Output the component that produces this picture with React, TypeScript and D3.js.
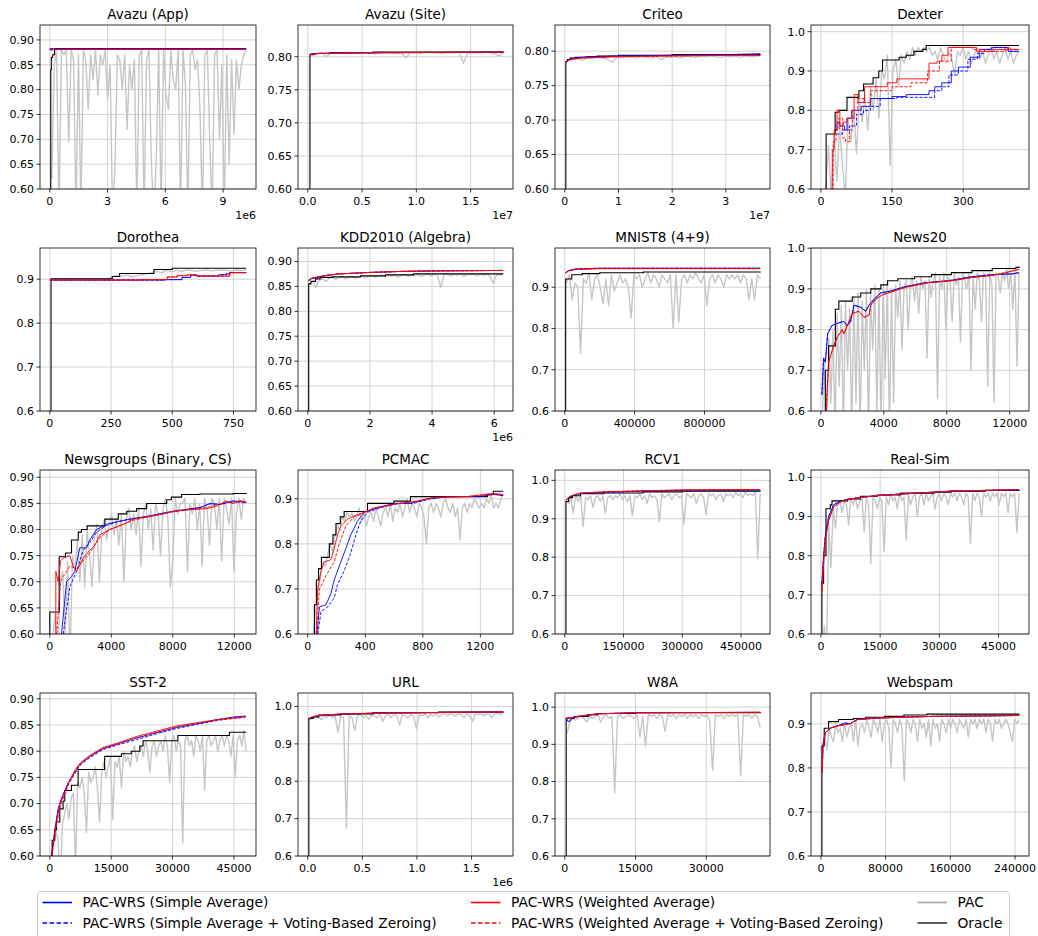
import React from 'react';
import * as d3 from 'd3';

type Pt = [number, number];

// ---------------- shared tick lists ----------------
const yTicksFine = [0.6, 0.65, 0.7, 0.75, 0.8, 0.85, 0.9];
const yTicksCoarse = [0.6, 0.7, 0.8, 0.9, 1.0];

// ---------------- Avazu (App) ----------------
const avazuAppSimple: Pt[] = [[0, 0.882], [1e6, 0.882], [10.2e6, 0.882]];
const avazuAppWeighted: Pt[] = [[0, 0.880], [1e6, 0.881], [10.2e6, 0.881]];
const avazuAppOracle: Pt[] = [[0.05e6, 0.6], [0.05e6, 0.84], [0.08e6, 0.865], [0.15e6, 0.87], [0.25e6, 0.882], [10.2e6, 0.882]];
const avazuAppPac = [0.62, 0.85, 0.875, 0.55, 0.88, 0.87, 0.88, 0.695, 0.88, 0.86, 0.55, 0.87, 0.55, 0.88, 0.86, 0.76, 0.87, 0.82, 0.88, 0.79, 0.87, 0.85, 0.88, 0.78, 0.85, 0.55, 0.64, 0.87, 0.86, 0.80, 0.87, 0.72, 0.85, 0.80, 0.86, 0.55, 0.87, 0.88, 0.55, 0.86, 0.88, 0.65, 0.55, 0.66, 0.88, 0.55, 0.88, 0.79, 0.76, 0.88, 0.82, 0.80, 0.88, 0.55, 0.88, 0.81, 0.55, 0.87, 0.88, 0.84, 0.86, 0.76, 0.55, 0.87, 0.88, 0.70, 0.55, 0.87, 0.88, 0.70, 0.85, 0.55, 0.87, 0.65, 0.86, 0.71, 0.86, 0.80, 0.85, 0.87, 0.88];
const avazuAppPacRange: Pt = [0.1e6, 10.2e6];
const avazuAppXTicks = [0, 3e6, 6e6, 9e6];
const avazuAppXLabels = ['0', '3', '6', '9'];

// ---------------- Avazu (Site) ----------------
const avazuSiteSimple: Pt[] = [[0.02e7, 0.804], [0.1e7, 0.805], [0.5e7, 0.806], [1.8e7, 0.807]];
const avazuSiteWeighted: Pt[] = [[0.02e7, 0.803], [0.1e7, 0.805], [0.5e7, 0.806], [1.8e7, 0.807]];
const avazuSiteOracle: Pt[] = [[0.02e7, 0.6], [0.02e7, 0.803], [0.05e7, 0.805], [0.2e7, 0.806], [0.6e7, 0.807], [1.8e7, 0.808]];
const avazuSitePac = [0.802, 0.805, 0.806, 0.800, 0.806, 0.806, 0.805, 0.806, 0.807, 0.806, 0.805, 0.806, 0.806, 0.806, 0.804, 0.806, 0.807, 0.806, 0.806, 0.805, 0.806, 0.798, 0.806, 0.806, 0.805, 0.806, 0.807, 0.806, 0.806, 0.805, 0.806, 0.806, 0.806, 0.807, 0.790, 0.806, 0.806, 0.806, 0.806, 0.807, 0.806, 0.805, 0.801, 0.806];
const avazuSitePacRange: Pt = [0.05e7, 1.8e7];
const avazuSiteXTicks = [0, 0.5e7, 1e7, 1.5e7];
const avazuSiteXLabels = ['0.0', '0.5', '1.0', '1.5'];

// ---------------- Criteo ----------------
const criteoSimple: Pt[] = [[0.02e7, 0.784], [0.05e7, 0.787], [0.1e7, 0.789], [0.3e7, 0.791], [0.6e7, 0.792], [1e7, 0.793], [2e7, 0.794], [3e7, 0.795], [3.64e7, 0.796]];
const criteoWeighted: Pt[] = [[0.02e7, 0.783], [0.05e7, 0.786], [0.1e7, 0.788], [0.3e7, 0.790], [0.6e7, 0.791], [1e7, 0.792], [2e7, 0.793], [3e7, 0.794], [3.64e7, 0.794]];
const criteoOracle: Pt[] = [[0.02e7, 0.6], [0.02e7, 0.785], [0.05e7, 0.788], [0.1e7, 0.790], [0.2e7, 0.791], [0.4e7, 0.792], [0.6e7, 0.793], [1e7, 0.794], [2e7, 0.795], [3.64e7, 0.796]];
const criteoPac = [0.786, 0.788, 0.789, 0.787, 0.790, 0.789, 0.791, 0.790, 0.789, 0.784, 0.791, 0.790, 0.792, 0.791, 0.790, 0.792, 0.791, 0.790, 0.792, 0.788, 0.792, 0.791, 0.792, 0.790, 0.793, 0.792, 0.791, 0.793, 0.792, 0.793, 0.792, 0.791, 0.793, 0.792, 0.793, 0.791, 0.793, 0.792, 0.793, 0.793];
const criteoPacRange: Pt = [0.05e7, 3.64e7];
const criteoXTicks = [0, 1e7, 2e7, 3e7];
const criteoXLabels = ['0', '1', '2', '3'];

// ---------------- Dexter ----------------
const dexterSimple: Pt[] = [[28, 0.75], [34, 0.77], [40, 0.76], [50, 0.75], [55, 0.78], [65, 0.80], [85, 0.81], [105, 0.83], [150, 0.835], [180, 0.84], [228, 0.85], [240, 0.86], [255, 0.87], [275, 0.90], [290, 0.91], [315, 0.935], [335, 0.955], [360, 0.96], [395, 0.95], [418, 0.95]];
const dexterSimpleZ: Pt[] = [[32, 0.74], [45, 0.75], [60, 0.76], [75, 0.79], [90, 0.80], [105, 0.81], [125, 0.83], [160, 0.833], [228, 0.833], [240, 0.85], [255, 0.86], [270, 0.89], [290, 0.90], [310, 0.93], [330, 0.945], [345, 0.955], [365, 0.96], [395, 0.95], [418, 0.95]];
const dexterWeighted: Pt[] = [[20, 0.6], [24, 0.70], [28, 0.75], [34, 0.80], [40, 0.76], [47, 0.77], [55, 0.78], [70, 0.84], [78, 0.82], [92, 0.86], [140, 0.87], [160, 0.88], [228, 0.92], [245, 0.925], [255, 0.94], [268, 0.96], [328, 0.95], [367, 0.955], [418, 0.955]];
const dexterWeightedZ: Pt[] = [[22, 0.6], [26, 0.72], [32, 0.75], [38, 0.78], [46, 0.73], [52, 0.72], [60, 0.75], [66, 0.80], [78, 0.83], [90, 0.82], [105, 0.85], [135, 0.85], [150, 0.86], [190, 0.87], [225, 0.90], [250, 0.925], [275, 0.96], [320, 0.955], [345, 0.95], [390, 0.96], [400, 0.955], [418, 0.955]];
const dexterOracle: Pt[] = [[11, 0.6], [11, 0.74], [30, 0.795], [38, 0.80], [55, 0.833], [80, 0.85], [90, 0.867], [110, 0.883], [122, 0.9], [130, 0.928], [165, 0.935], [180, 0.94], [196, 0.95], [215, 0.955], [222, 0.965], [418, 0.965]];
const dexterPac = [0.60, 0.71, 0.58, 0.74, 0.62, 0.76, 0.66, 0.58, 0.78, 0.72, 0.80, 0.69, 0.83, 0.77, 0.84, 0.75, 0.86, 0.80, 0.88, 0.78, 0.90, 0.88, 0.94, 0.66, 0.90, 0.93, 0.86, 0.94, 0.92, 0.95, 0.93, 0.96, 0.94, 0.96, 0.95, 0.96, 0.95, 0.96, 0.94, 0.95, 0.93, 0.96, 0.94, 0.92, 0.95, 0.93, 0.89, 0.95, 0.94, 0.96, 0.93, 0.95, 0.92, 0.94, 0.96, 0.93, 0.95, 0.92, 0.94, 0.96, 0.93, 0.95, 0.92, 0.94, 0.96, 0.93, 0.95, 0.92, 0.94, 0.95];
const dexterPacRange: Pt = [10, 418];
const dexterXTicks = [0, 150, 300];

// ---------------- Dorothea ----------------
const dorotheaSimple: Pt[] = [[0, 0.898], [470, 0.899], [540, 0.904], [575, 0.909], [600, 0.907], [690, 0.91], [720, 0.912], [735, 0.915], [802, 0.915]];
const dorotheaWeighted: Pt[] = [[0, 0.898], [370, 0.899], [480, 0.905], [520, 0.908], [560, 0.910], [600, 0.907], [735, 0.915], [802, 0.916]];
const dorotheaOracle: Pt[] = [[5, 0.6], [5, 0.901], [255, 0.906], [285, 0.913], [425, 0.922], [500, 0.925], [802, 0.925]];
const dorotheaPac = [0.90, 0.90, 0.90, 0.90, 0.90, 0.90, 0.90, 0.90, 0.90, 0.90, 0.90, 0.90, 0.905, 0.908, 0.906, 0.91, 0.905, 0.908, 0.91, 0.912, 0.915, 0.918, 0.915, 0.92, 0.917, 0.92, 0.918, 0.921, 0.92, 0.918, 0.92, 0.921, 0.919, 0.92, 0.921, 0.92, 0.919, 0.921, 0.92, 0.921];
const dorotheaPacRange: Pt = [10, 802];
const dorotheaXTicks = [0, 250, 500, 750];

// ---------------- KDD2010 (Algebra) ----------------
const kddSimple: Pt[] = [[0.02e6, 0.861], [0.1e6, 0.865], [0.3e6, 0.868], [0.6e6, 0.872], [1e6, 0.875], [2e6, 0.878], [3e6, 0.880], [4e6, 0.881], [6.29e6, 0.882]];
const kddWeighted: Pt[] = [[0.02e6, 0.862], [0.1e6, 0.866], [0.3e6, 0.869], [0.6e6, 0.872], [1e6, 0.875], [2e6, 0.878], [3e6, 0.880], [4e6, 0.881], [6.29e6, 0.882]];
const kddOracle: Pt[] = [[0.03e6, 0.6], [0.03e6, 0.855], [0.1e6, 0.86], [0.25e6, 0.865], [0.4e6, 0.868], [0.8e6, 0.869], [1.7e6, 0.871], [2.5e6, 0.873], [3.4e6, 0.875], [6.29e6, 0.875]];
const kddPac = [0.855, 0.86, 0.848, 0.862, 0.865, 0.86, 0.866, 0.868, 0.864, 0.867, 0.869, 0.865, 0.868, 0.87, 0.866, 0.869, 0.871, 0.867, 0.87, 0.872, 0.868, 0.871, 0.873, 0.869, 0.872, 0.87, 0.873, 0.868, 0.872, 0.874, 0.87, 0.873, 0.871, 0.874, 0.87, 0.873, 0.875, 0.871, 0.874, 0.872, 0.848, 0.873, 0.875, 0.871, 0.874, 0.872, 0.875, 0.87, 0.874, 0.873, 0.875, 0.871, 0.874, 0.872, 0.875, 0.87, 0.856, 0.874, 0.872, 0.875];
const kddPacRange: Pt = [0.05e6, 6.29e6];
const kddXTicks = [0, 2e6, 4e6, 6e6];
const kddXLabels = ['0', '2', '4', '6'];

// ---------------- MNIST8 (4+9) ----------------
const mnistSimple: Pt[] = [[5000, 0.935], [20000, 0.940], [60000, 0.944], [200000, 0.946], [1119000, 0.946]];
const mnistWeighted: Pt[] = [[5000, 0.934], [20000, 0.939], [60000, 0.943], [200000, 0.945], [1119000, 0.945]];
const mnistOracle: Pt[] = [[5000, 0.6], [5000, 0.92], [40000, 0.93], [100000, 0.933], [200000, 0.935], [450000, 0.937], [1119000, 0.938]];
const mnistPac = [0.91, 0.93, 0.87, 0.91, 0.90, 0.74, 0.92, 0.91, 0.935, 0.87, 0.92, 0.93, 0.90, 0.86, 0.92, 0.855, 0.93, 0.89, 0.91, 0.93, 0.91, 0.92, 0.90, 0.825, 0.93, 0.92, 0.93, 0.90, 0.92, 0.935, 0.91, 0.93, 0.92, 0.90, 0.93, 0.92, 0.91, 0.93, 0.80, 0.93, 0.815, 0.92, 0.93, 0.91, 0.93, 0.92, 0.935, 0.92, 0.91, 0.93, 0.855, 0.92, 0.93, 0.91, 0.93, 0.92, 0.90, 0.93, 0.92, 0.93, 0.92, 0.93, 0.91, 0.93, 0.92, 0.87, 0.92, 0.87, 0.93, 0.92];
const mnistPacRange: Pt = [10000, 1119000];
const mnistXTicks = [0, 400000, 800000];

// ---------------- News20 ----------------
const news20Simple: Pt[] = [[64, 0.64], [170, 0.73], [280, 0.72], [430, 0.79], [700, 0.81], [1000, 0.815], [1460, 0.82], [1670, 0.81], [1890, 0.82], [2100, 0.86], [2530, 0.855], [2850, 0.845], [3060, 0.86], [3390, 0.875], [3800, 0.89], [4460, 0.895], [5300, 0.905], [6600, 0.915], [8100, 0.92], [9600, 0.93], [10900, 0.935], [12170, 0.937], [12600, 0.94]];
const news20Weighted: Pt[] = [[340, 0.6], [490, 0.72], [810, 0.76], [1030, 0.78], [1350, 0.80], [1460, 0.79], [1670, 0.81], [2000, 0.84], [2420, 0.845], [2740, 0.83], [3060, 0.835], [3170, 0.86], [3490, 0.875], [3900, 0.885], [4650, 0.895], [5500, 0.905], [6800, 0.915], [8300, 0.92], [9600, 0.928], [10900, 0.933], [11740, 0.94], [12600, 0.948]];
const news20Oracle: Pt[] = [[280, 0.6], [280, 0.70], [490, 0.76], [920, 0.85], [1140, 0.87], [1990, 0.88], [2530, 0.89], [3170, 0.90], [3810, 0.91], [4240, 0.92], [4890, 0.925], [5960, 0.93], [7030, 0.935], [8300, 0.94], [9600, 0.945], [10890, 0.95], [12390, 0.953], [12600, 0.955]];
const news20Pac = [0.60, 0.72, 0.55, 0.78, 0.62, 0.80, 0.55, 0.84, 0.66, 0.86, 0.55, 0.87, 0.70, 0.85, 0.55, 0.88, 0.62, 0.89, 0.55, 0.87, 0.70, 0.90, 0.55, 0.89, 0.75, 0.91, 0.60, 0.90, 0.55, 0.91, 0.68, 0.92, 0.55, 0.90, 0.62, 0.91, 0.83, 0.92, 0.75, 0.90, 0.92, 0.80, 0.91, 0.93, 0.87, 0.92, 0.84, 0.93, 0.90, 0.92, 0.73, 0.93, 0.88, 0.92, 0.94, 0.63, 0.93, 0.90, 0.94, 0.80, 0.93, 0.92, 0.82, 0.94, 0.91, 0.93, 0.77, 0.94, 0.92, 0.90, 0.94, 0.70, 0.93, 0.85, 0.94, 0.92, 0.82, 0.94, 0.93, 0.66, 0.94, 0.91, 0.62, 0.94, 0.93, 0.89, 0.94, 0.92, 0.95, 0.90, 0.94, 0.85, 0.95, 0.71, 0.94];
const news20PacRange: Pt = [100, 12600];
const news20XTicks = [0, 4000, 8000, 12000];

// ---------------- Newsgroups (Binary, CS) ----------------
const newsgroupsSimple: Pt[] = [[760, 0.6], [1090, 0.70], [1410, 0.71], [1630, 0.72], [1950, 0.765], [2390, 0.765], [2600, 0.78], [3040, 0.80], [3690, 0.81], [4340, 0.815], [5210, 0.82], [6510, 0.826], [7600, 0.833], [8680, 0.838], [9770, 0.842], [10420, 0.85], [11070, 0.848], [11940, 0.855], [12770, 0.852]];
const newsgroupsSimpleZ: Pt[] = [[870, 0.6], [1300, 0.69], [1740, 0.72], [2170, 0.76], [2600, 0.775], [3040, 0.795], [3690, 0.808], [4340, 0.814], [5210, 0.82], [6510, 0.826], [7600, 0.832], [8680, 0.837], [9770, 0.842], [10420, 0.849], [11070, 0.848], [11940, 0.854], [12770, 0.851]];
const newsgroupsWeighted: Pt[] = [[390, 0.6], [390, 0.72], [540, 0.70], [700, 0.74], [870, 0.745], [1300, 0.75], [1520, 0.73], [1740, 0.72], [2170, 0.745], [2600, 0.76], [2930, 0.77], [3260, 0.79], [3900, 0.80], [4780, 0.81], [5430, 0.82], [6510, 0.825], [7380, 0.83], [8030, 0.835], [9110, 0.838], [10200, 0.84], [10850, 0.845], [11500, 0.855], [11930, 0.85], [12370, 0.855], [12770, 0.852]];
const newsgroupsWeightedZ: Pt[] = [[460, 0.6], [540, 0.64], [700, 0.70], [870, 0.71], [1300, 0.73], [1740, 0.725], [2170, 0.74], [2600, 0.755], [3260, 0.785], [3900, 0.80], [4780, 0.81], [5430, 0.818], [6510, 0.825], [7380, 0.83], [8030, 0.835], [9110, 0.838], [10200, 0.842], [10850, 0.847], [11500, 0.853], [11930, 0.85], [12370, 0.855], [12770, 0.852]];
const newsgroupsOracle: Pt[] = [[0, 0.6], [0, 0.642], [610, 0.748], [1020, 0.755], [1410, 0.78], [1850, 0.795], [2060, 0.80], [2430, 0.807], [3580, 0.82], [4450, 0.83], [5000, 0.835], [5640, 0.84], [6300, 0.85], [7600, 0.857], [7900, 0.862], [8570, 0.867], [9760, 0.868], [11930, 0.869], [12770, 0.87]];
const newsgroupsPac = [0.60, 0.64, 0.55, 0.70, 0.72, 0.60, 0.74, 0.55, 0.75, 0.72, 0.78, 0.70, 0.79, 0.69, 0.80, 0.75, 0.69, 0.79, 0.81, 0.70, 0.80, 0.82, 0.78, 0.81, 0.83, 0.79, 0.82, 0.77, 0.83, 0.70, 0.82, 0.84, 0.80, 0.83, 0.79, 0.84, 0.73, 0.83, 0.85, 0.80, 0.84, 0.76, 0.85, 0.83, 0.75, 0.84, 0.86, 0.82, 0.69, 0.74, 0.86, 0.83, 0.85, 0.85, 0.86, 0.72, 0.85, 0.83, 0.86, 0.80, 0.85, 0.73, 0.86, 0.84, 0.77, 0.86, 0.85, 0.80, 0.86, 0.74, 0.86, 0.84, 0.81, 0.86, 0.72, 0.83, 0.86, 0.82, 0.86, 0.85];
const newsgroupsPacRange: Pt = [200, 12770];
const newsgroupsXTicks = [0, 4000, 8000, 12000];

// ---------------- PCMAC ----------------
const pcmacSimple: Pt[] = [[64, 0.6], [81, 0.66], [127, 0.665], [161, 0.69], [184, 0.72], [230, 0.76], [265, 0.79], [299, 0.82], [345, 0.85], [391, 0.87], [484, 0.88], [599, 0.89], [714, 0.89], [829, 0.90], [990, 0.905], [1198, 0.905], [1290, 0.91], [1359, 0.908]];
const pcmacSimpleZ: Pt[] = [[70, 0.6], [92, 0.65], [138, 0.66], [184, 0.68], [207, 0.71], [253, 0.74], [299, 0.78], [334, 0.82], [368, 0.85], [415, 0.87], [507, 0.88], [622, 0.89], [737, 0.89], [852, 0.90], [990, 0.905], [1198, 0.905], [1290, 0.91], [1359, 0.907]];
const pcmacWeighted: Pt[] = [[58, 0.6], [69, 0.70], [92, 0.74], [115, 0.76], [161, 0.765], [184, 0.79], [207, 0.82], [230, 0.84], [276, 0.855], [322, 0.862], [391, 0.87], [461, 0.88], [553, 0.885], [645, 0.89], [760, 0.895], [875, 0.903], [1105, 0.905], [1290, 0.912], [1359, 0.91]];
const pcmacWeightedZ: Pt[] = [[60, 0.6], [81, 0.70], [127, 0.73], [184, 0.76], [219, 0.80], [265, 0.84], [322, 0.86], [391, 0.868], [461, 0.88], [553, 0.885], [645, 0.89], [760, 0.895], [875, 0.903], [1105, 0.905], [1290, 0.91], [1359, 0.908]];
const pcmacOracle: Pt[] = [[46, 0.6], [46, 0.665], [60, 0.72], [75, 0.745], [95, 0.77], [150, 0.80], [175, 0.82], [196, 0.845], [226, 0.86], [253, 0.872], [415, 0.89], [599, 0.895], [714, 0.905], [1250, 0.91], [1290, 0.917], [1359, 0.917]];
const pcmacPac = [0.60, 0.66, 0.70, 0.73, 0.76, 0.75, 0.78, 0.80, 0.78, 0.82, 0.84, 0.83, 0.86, 0.85, 0.87, 0.86, 0.87, 0.85, 0.86, 0.88, 0.85, 0.87, 0.84, 0.86, 0.87, 0.85, 0.88, 0.86, 0.84, 0.87, 0.88, 0.86, 0.89, 0.85, 0.88, 0.87, 0.89, 0.86, 0.88, 0.90, 0.87, 0.89, 0.88, 0.86, 0.89, 0.88, 0.86, 0.80, 0.88, 0.89, 0.87, 0.89, 0.88, 0.86, 0.89, 0.90, 0.88, 0.87, 0.89, 0.86, 0.88, 0.81, 0.88, 0.89, 0.87, 0.89, 0.88, 0.90, 0.89, 0.88, 0.89, 0.88, 0.90, 0.89, 0.91, 0.88, 0.89, 0.88, 0.90, 0.91];
const pcmacPacRange: Pt = [40, 1359];
const pcmacXTicks = [0, 400, 800, 1200];

// ---------------- RCV1 ----------------
const rcv1Simple: Pt[] = [[3000, 0.948], [10000, 0.955], [20000, 0.96], [40000, 0.966], [100000, 0.969], [200000, 0.972], [300000, 0.974], [499000, 0.975]];
const rcv1Weighted: Pt[] = [[3000, 0.949], [10000, 0.956], [20000, 0.961], [40000, 0.967], [100000, 0.970], [200000, 0.973], [300000, 0.975], [499000, 0.976]];
const rcv1Oracle: Pt[] = [[3000, 0.6], [3000, 0.945], [10000, 0.955], [20000, 0.96], [40000, 0.965], [100000, 0.967], [200000, 0.97], [300000, 0.972], [499000, 0.973]];
const rcv1Pac = [0.95, 0.94, 0.955, 0.915, 0.96, 0.945, 0.96, 0.88, 0.955, 0.95, 0.96, 0.93, 0.955, 0.96, 0.945, 0.96, 0.915, 0.955, 0.96, 0.95, 0.96, 0.955, 0.965, 0.95, 0.96, 0.945, 0.96, 0.908, 0.96, 0.955, 0.965, 0.95, 0.96, 0.94, 0.965, 0.955, 0.96, 0.95, 0.893, 0.965, 0.955, 0.96, 0.965, 0.95, 0.96, 0.965, 0.955, 0.96, 0.885, 0.965, 0.96, 0.955, 0.965, 0.94, 0.96, 0.965, 0.955, 0.91, 0.965, 0.96, 0.965, 0.95, 0.96, 0.965, 0.945, 0.965, 0.96, 0.965, 0.955, 0.97, 0.96, 0.965, 0.955, 0.97, 0.96, 0.965, 0.96, 0.97, 0.795, 0.965];
const rcv1PacRange: Pt = [3000, 499000];
const rcv1XTicks = [0, 150000, 300000, 450000];

// ---------------- Real-Sim ----------------
const realSimSimple: Pt[] = [[255, 0.73], [680, 0.80], [1110, 0.85], [1960, 0.90], [3230, 0.93], [4950, 0.94], [7490, 0.945], [10900, 0.95], [16000, 0.955], [24500, 0.96], [33000, 0.965], [50200, 0.968]];
const realSimWeighted: Pt[] = [[255, 0.71], [680, 0.78], [1110, 0.84], [1960, 0.89], [3230, 0.925], [5360, 0.94], [7490, 0.945], [10900, 0.95], [16000, 0.955], [24500, 0.96], [33000, 0.965], [50200, 0.969]];
const realSimOracle: Pt[] = [[255, 0.6], [255, 0.73], [680, 0.80], [1280, 0.92], [2380, 0.93], [2800, 0.94], [6800, 0.945], [10000, 0.952], [14300, 0.955], [20200, 0.96], [28700, 0.962], [33000, 0.965], [41700, 0.967], [50200, 0.968]];
const realSimPac = [0.55, 0.62, 0.55, 0.88, 0.77, 0.92, 0.87, 0.93, 0.94, 0.91, 0.94, 0.93, 0.88, 0.95, 0.93, 0.95, 0.92, 0.94, 0.95, 0.86, 0.95, 0.93, 0.78, 0.95, 0.94, 0.92, 0.95, 0.94, 0.81, 0.95, 0.93, 0.96, 0.94, 0.95, 0.92, 0.96, 0.94, 0.95, 0.84, 0.96, 0.93, 0.95, 0.96, 0.90, 0.95, 0.96, 0.93, 0.96, 0.94, 0.95, 0.96, 0.92, 0.95, 0.96, 0.94, 0.96, 0.95, 0.93, 0.96, 0.95, 0.96, 0.94, 0.96, 0.95, 0.93, 0.96, 0.95, 0.83, 0.96, 0.94, 0.96, 0.95, 0.90, 0.96, 0.95, 0.96, 0.94, 0.96, 0.95, 0.96, 0.93, 0.96, 0.95, 0.96, 0.91, 0.96, 0.95, 0.96, 0.86, 0.96];
const realSimPacRange: Pt = [300, 50200];
const realSimXTicks = [0, 15000, 30000, 45000];

// ---------------- SST-2 ----------------
const sst2Simple: Pt[] = [[400, 0.6], [1220, 0.65], [2030, 0.69], [2850, 0.71], [4480, 0.74], [6100, 0.76], [7320, 0.775], [9760, 0.79], [13000, 0.805], [17100, 0.815], [21200, 0.825], [26000, 0.835], [30900, 0.845], [35800, 0.852], [40700, 0.86], [44750, 0.865], [47900, 0.867]];
const sst2SimpleZ: Pt[] = [[420, 0.6], [1260, 0.65], [2100, 0.688], [2900, 0.708], [4550, 0.738], [6200, 0.758], [7400, 0.773], [9800, 0.788], [13000, 0.803], [17100, 0.813], [21200, 0.822], [26000, 0.833], [30900, 0.843], [35800, 0.851], [40700, 0.858], [44750, 0.864], [47900, 0.866]];
const sst2Weighted: Pt[] = [[450, 0.6], [1300, 0.65], [2200, 0.69], [3000, 0.71], [4600, 0.74], [6200, 0.765], [7500, 0.778], [9760, 0.792], [13000, 0.807], [17100, 0.817], [21200, 0.828], [26000, 0.838], [30900, 0.848], [35800, 0.854], [40700, 0.86], [44750, 0.863], [47900, 0.866]];
const sst2WeightedZ: Pt[] = [[480, 0.6], [1350, 0.645], [2250, 0.686], [3050, 0.706], [4650, 0.737], [6250, 0.762], [7550, 0.776], [9800, 0.79], [13000, 0.805], [17100, 0.815], [21200, 0.826], [26000, 0.836], [30900, 0.846], [35800, 0.853], [40700, 0.859], [44750, 0.862], [47900, 0.865]];
const sst2Oracle: Pt[] = [[244, 0.6], [570, 0.63], [1220, 0.65], [1630, 0.665], [2440, 0.69], [3250, 0.705], [3660, 0.725], [5290, 0.735], [6920, 0.765], [13400, 0.79], [17500, 0.795], [19900, 0.80], [22000, 0.81], [22800, 0.82], [31300, 0.83], [43900, 0.836], [47900, 0.837]];
const sst2Pac = [0.60, 0.62, 0.65, 0.63, 0.55, 0.66, 0.68, 0.70, 0.67, 0.71, 0.72, 0.58, 0.74, 0.73, 0.75, 0.72, 0.645, 0.76, 0.74, 0.75, 0.77, 0.73, 0.665, 0.76, 0.78, 0.75, 0.77, 0.79, 0.67, 0.78, 0.77, 0.79, 0.73, 0.80, 0.78, 0.79, 0.77, 0.80, 0.81, 0.78, 0.80, 0.81, 0.79, 0.82, 0.80, 0.76, 0.81, 0.82, 0.79, 0.81, 0.82, 0.80, 0.83, 0.81, 0.74, 0.82, 0.83, 0.80, 0.82, 0.81, 0.625, 0.82, 0.83, 0.81, 0.82, 0.79, 0.83, 0.82, 0.80, 0.83, 0.725, 0.82, 0.83, 0.81, 0.82, 0.83, 0.80, 0.82, 0.83, 0.81, 0.83, 0.82, 0.79, 0.83, 0.75, 0.82, 0.83, 0.81, 0.84, 0.80];
const sst2PacRange: Pt = [400, 48000];
const sst2XTicks = [0, 15000, 30000, 45000];

// ---------------- URL ----------------
const urlSimple: Pt[] = [[0.01e6, 0.966], [0.03e6, 0.970], [0.1e6, 0.975], [0.3e6, 0.979], [0.6e6, 0.982], [1.2e6, 0.984], [1.79e6, 0.985]];
const urlWeighted: Pt[] = [[0.01e6, 0.967], [0.03e6, 0.971], [0.1e6, 0.976], [0.3e6, 0.980], [0.6e6, 0.982], [1.2e6, 0.984], [1.79e6, 0.985]];
const urlOracle: Pt[] = [[0.01e6, 0.6], [0.01e6, 0.968], [0.05e6, 0.972], [0.1e6, 0.977], [0.3e6, 0.98], [0.6e6, 0.983], [1.2e6, 0.985], [1.79e6, 0.986]];
const urlPac = [0.965, 0.97, 0.975, 0.97, 0.965, 0.975, 0.97, 0.978, 0.97, 0.975, 0.93, 0.975, 0.97, 0.675, 0.975, 0.97, 0.935, 0.975, 0.978, 0.97, 0.975, 0.965, 0.978, 0.975, 0.97, 0.978, 0.96, 0.975, 0.978, 0.97, 0.978, 0.975, 0.95, 0.978, 0.975, 0.97, 0.978, 0.975, 0.94, 0.978, 0.975, 0.98, 0.97, 0.978, 0.975, 0.98, 0.972, 0.978, 0.98, 0.975, 0.98, 0.978, 0.975, 0.98, 0.978, 0.97, 0.98, 0.975, 0.96, 0.98, 0.978, 0.98, 0.975, 0.98, 0.978, 0.97, 0.98, 0.982, 0.978, 0.98];
const urlPacRange: Pt = [0.02e6, 1.79e6];
const urlXTicks = [0, 0.5e6, 1e6, 1.5e6];
const urlXLabels = ['0.0', '0.5', '1.0', '1.5'];

// ---------------- W8A ----------------
const w8aSimple: Pt[] = [[300, 0.97], [800, 0.96], [1500, 0.97], [3000, 0.975], [7000, 0.982], [15000, 0.985], [41450, 0.986]];
const w8aWeighted: Pt[] = [[300, 0.97], [1500, 0.972], [3000, 0.976], [7000, 0.982], [15000, 0.985], [41450, 0.986]];
const w8aOracle: Pt[] = [[300, 0.6], [300, 0.97], [2000, 0.975], [5000, 0.98], [7000, 0.983], [15000, 0.985], [41450, 0.986]];
const w8aPac = [0.93, 0.96, 0.97, 0.965, 0.97, 0.975, 0.97, 0.96, 0.975, 0.97, 0.975, 0.98, 0.96, 0.975, 0.98, 0.97, 0.975, 0.77, 0.975, 0.98, 0.97, 0.975, 0.98, 0.975, 0.97, 0.98, 0.92, 0.975, 0.895, 0.98, 0.975, 0.98, 0.97, 0.98, 0.975, 0.935, 0.98, 0.975, 0.98, 0.97, 0.98, 0.975, 0.98, 0.97, 0.98, 0.975, 0.98, 0.97, 0.98, 0.975, 0.98, 0.96, 0.83, 0.98, 0.975, 0.98, 0.97, 0.98, 0.975, 0.98, 0.975, 0.98, 0.815, 0.98, 0.975, 0.98, 0.97, 0.98, 0.975, 0.945];
const w8aPacRange: Pt = [500, 41450];
const w8aXTicks = [0, 15000, 30000];

// ---------------- Webspam ----------------
const webspamSimple: Pt[] = [[1600, 0.79], [2500, 0.85], [5400, 0.88], [11600, 0.89], [19800, 0.895], [30000, 0.902], [36000, 0.90], [45500, 0.91], [70000, 0.913], [98000, 0.915], [140000, 0.917], [200000, 0.918], [245000, 0.919]];
const webspamWeighted: Pt[] = [[1600, 0.79], [2500, 0.85], [5400, 0.88], [11600, 0.89], [19800, 0.895], [30000, 0.898], [36000, 0.90], [45500, 0.91], [70000, 0.913], [98000, 0.915], [140000, 0.917], [200000, 0.918], [245000, 0.919]];
const webspamOracle: Pt[] = [[1240, 0.6], [1240, 0.85], [4100, 0.89], [9500, 0.905], [21900, 0.91], [40000, 0.912], [55000, 0.915], [78600, 0.917], [102600, 0.92], [131000, 0.922], [245000, 0.923]];
const webspamPac = [0.85, 0.88, 0.84, 0.89, 0.87, 0.86, 0.90, 0.88, 0.89, 0.86, 0.90, 0.87, 0.89, 0.90, 0.86, 0.91, 0.85, 0.89, 0.90, 0.88, 0.91, 0.89, 0.87, 0.91, 0.90, 0.88, 0.91, 0.86, 0.90, 0.91, 0.89, 0.80, 0.91, 0.90, 0.88, 0.91, 0.89, 0.77, 0.91, 0.90, 0.88, 0.91, 0.90, 0.86, 0.91, 0.89, 0.90, 0.87, 0.91, 0.85, 0.91, 0.89, 0.90, 0.86, 0.91, 0.90, 0.88, 0.91, 0.89, 0.91, 0.90, 0.88, 0.91, 0.90, 0.89, 0.91, 0.87, 0.91, 0.90, 0.91, 0.89, 0.91, 0.90, 0.91, 0.88, 0.91, 0.90, 0.86, 0.91, 0.90, 0.91, 0.89, 0.90, 0.91, 0.90, 0.88, 0.86, 0.91, 0.90, 0.91];
const webspamPacRange: Pt = [2000, 245000];
const webspamXTicks = [0, 80000, 160000, 240000];

// ---------------- legend ----------------
const legendLabels = [
  'PAC-WRS (Simple Average)',
  'PAC-WRS (Simple Average + Voting-Based Zeroing)',
  'PAC-WRS (Weighted Average)',
  'PAC-WRS (Weighted Average + Voting-Based Zeroing)',
  'PAC',
  'Oracle',
];

// ---------------- panel table ----------------
interface PanelDef {
  title: string;
  extent: Pt;
  yMax: number;
  yTicks: number[];
  yDec: number;
  xTicks: number[];
  xLabels?: string[];
  offset?: string;
  simple: Pt[];
  simpleZ: Pt[];
  weighted: Pt[];
  weightedZ: Pt[];
  oracle: Pt[];
  pac: number[];
  pacRange: Pt;
  step?: boolean;
}

const PANELS: PanelDef[] = [
  { title: 'Avazu (App)', extent: [0, 10.2e6], yMax: 0.93, yTicks: yTicksFine, yDec: 2, xTicks: avazuAppXTicks, xLabels: avazuAppXLabels, offset: '1e6', simple: avazuAppSimple, simpleZ: avazuAppSimple, weighted: avazuAppWeighted, weightedZ: avazuAppWeighted, oracle: avazuAppOracle, pac: avazuAppPac, pacRange: avazuAppPacRange },
  { title: 'Avazu (Site)', extent: [0, 1.8e7], yMax: 0.848, yTicks: yTicksFine, yDec: 2, xTicks: avazuSiteXTicks, xLabels: avazuSiteXLabels, offset: '1e7', simple: avazuSiteSimple, simpleZ: avazuSiteSimple, weighted: avazuSiteWeighted, weightedZ: avazuSiteWeighted, oracle: avazuSiteOracle, pac: avazuSitePac, pacRange: avazuSitePacRange },
  { title: 'Criteo', extent: [0, 3.64e7], yMax: 0.838, yTicks: yTicksFine, yDec: 2, xTicks: criteoXTicks, xLabels: criteoXLabels, offset: '1e7', simple: criteoSimple, simpleZ: criteoSimple, weighted: criteoWeighted, weightedZ: criteoWeighted, oracle: criteoOracle, pac: criteoPac, pacRange: criteoPacRange },
  { title: 'Dexter', extent: [0, 418], yMax: 1.017, yTicks: yTicksCoarse, yDec: 1, xTicks: dexterXTicks, simple: dexterSimple, simpleZ: dexterSimpleZ, weighted: dexterWeighted, weightedZ: dexterWeightedZ, oracle: dexterOracle, pac: dexterPac, pacRange: dexterPacRange, step: true },
  { title: 'Dorothea', extent: [0, 802], yMax: 0.971, yTicks: yTicksCoarse, yDec: 1, xTicks: dorotheaXTicks, simple: dorotheaSimple, simpleZ: dorotheaSimple, weighted: dorotheaWeighted, weightedZ: dorotheaWeighted, oracle: dorotheaOracle, pac: dorotheaPac, pacRange: dorotheaPacRange, step: true },
  { title: 'KDD2010 (Algebra)', extent: [0, 6.29e6], yMax: 0.927, yTicks: yTicksFine, yDec: 2, xTicks: kddXTicks, xLabels: kddXLabels, offset: '1e6', simple: kddSimple, simpleZ: kddSimple, weighted: kddWeighted, weightedZ: kddWeighted, oracle: kddOracle, pac: kddPac, pacRange: kddPacRange },
  { title: 'MNIST8 (4+9)', extent: [0, 1.119e6], yMax: 0.995, yTicks: yTicksCoarse, yDec: 1, xTicks: mnistXTicks, simple: mnistSimple, simpleZ: mnistSimple, weighted: mnistWeighted, weightedZ: mnistWeighted, oracle: mnistOracle, pac: mnistPac, pacRange: mnistPacRange },
  { title: 'News20', extent: [0, 12600], yMax: 1.0005, yTicks: yTicksCoarse, yDec: 1, xTicks: news20XTicks, simple: news20Simple, simpleZ: news20Simple, weighted: news20Weighted, weightedZ: news20Weighted, oracle: news20Oracle, pac: news20Pac, pacRange: news20PacRange },
  { title: 'Newsgroups (Binary, CS)', extent: [0, 12770], yMax: 0.914, yTicks: yTicksFine, yDec: 2, xTicks: newsgroupsXTicks, simple: newsgroupsSimple, simpleZ: newsgroupsSimpleZ, weighted: newsgroupsWeighted, weightedZ: newsgroupsWeightedZ, oracle: newsgroupsOracle, pac: newsgroupsPac, pacRange: newsgroupsPacRange },
  { title: 'PCMAC', extent: [0, 1359], yMax: 0.964, yTicks: yTicksCoarse, yDec: 1, xTicks: pcmacXTicks, simple: pcmacSimple, simpleZ: pcmacSimpleZ, weighted: pcmacWeighted, weightedZ: pcmacWeightedZ, oracle: pcmacOracle, pac: pcmacPac, pacRange: pcmacPacRange },
  { title: 'RCV1', extent: [0, 499000], yMax: 1.027, yTicks: yTicksCoarse, yDec: 1, xTicks: rcv1XTicks, simple: rcv1Simple, simpleZ: rcv1Simple, weighted: rcv1Weighted, weightedZ: rcv1Weighted, oracle: rcv1Oracle, pac: rcv1Pac, pacRange: rcv1PacRange },
  { title: 'Real-Sim', extent: [0, 50200], yMax: 1.019, yTicks: yTicksCoarse, yDec: 1, xTicks: realSimXTicks, simple: realSimSimple, simpleZ: realSimSimple, weighted: realSimWeighted, weightedZ: realSimWeighted, oracle: realSimOracle, pac: realSimPac, pacRange: realSimPacRange },
  { title: 'SST-2', extent: [0, 48000], yMax: 0.911, yTicks: yTicksFine, yDec: 2, xTicks: sst2XTicks, simple: sst2Simple, simpleZ: sst2SimpleZ, weighted: sst2Weighted, weightedZ: sst2WeightedZ, oracle: sst2Oracle, pac: sst2Pac, pacRange: sst2PacRange },
  { title: 'URL', extent: [0, 1.79e6], yMax: 1.036, yTicks: yTicksCoarse, yDec: 1, xTicks: urlXTicks, xLabels: urlXLabels, offset: '1e6', simple: urlSimple, simpleZ: urlSimple, weighted: urlWeighted, weightedZ: urlWeighted, oracle: urlOracle, pac: urlPac, pacRange: urlPacRange },
  { title: 'W8A', extent: [0, 41450], yMax: 1.038, yTicks: yTicksCoarse, yDec: 1, xTicks: w8aXTicks, simple: w8aSimple, simpleZ: w8aSimple, weighted: w8aWeighted, weightedZ: w8aWeighted, oracle: w8aOracle, pac: w8aPac, pacRange: w8aPacRange },
  { title: 'Webspam', extent: [0, 245000], yMax: 0.97, yTicks: yTicksCoarse, yDec: 1, xTicks: webspamXTicks, simple: webspamSimple, simpleZ: webspamSimple, weighted: webspamWeighted, weightedZ: webspamWeighted, oracle: webspamOracle, pac: webspamPac, pacRange: webspamPacRange },
];

// ---------------- layout ----------------
const COLS: Pt[] = [[40, 256], [298, 513], [555, 770], [811, 1029]];
const ROWS: Pt[] = [[25, 189], [248, 411], [470, 634], [693, 856]];
const FONT = "'DejaVu Sans', 'Liberation Sans', sans-serif";
const BLUE = '#0000ff';
const RED = '#ff0000';
const PAC_COLOR = '#c6c6c6';
const GRID = '#d3d3d3';
const DASH = '3.2,1.6';

function Panel({ def, idx }: { def: PanelDef; idx: number }) {
  const [L, R] = COLS[idx % 4];
  const [T, B] = ROWS[Math.floor(idx / 4)];
  const pad = 0.05 * (def.extent[1] - def.extent[0]);
  const x = d3.scaleLinear().domain([def.extent[0] - pad, def.extent[1] + pad]).range([L, R]);
  const y = d3.scaleLinear().domain([0.6, def.yMax]).range([B, T]);
  const lin = d3.line<Pt>().x((d) => x(d[0])).y((d) => y(d[1]));
  const stepLine = d3.line<Pt>().x((d) => x(d[0])).y((d) => y(d[1])).curve(d3.curveStepAfter);
  const method = def.step ? stepLine : lin;
  const n = def.pac.length;
  const pacPts: Pt[] = def.pac.map((v, i) => [def.pacRange[0] + (i * (def.pacRange[1] - def.pacRange[0])) / (n - 1), v]);
  const yt = def.yTicks.filter((t) => t <= def.yMax + 1e-9);
  const clipId = `clip-${idx}`;
  return (
    <g>
      <defs>
        <clipPath id={clipId}>
          <rect x={L} y={T} width={R - L} height={B - T} />
        </clipPath>
      </defs>
      {def.xTicks.map((t) => (
        <line key={'gx' + t} x1={x(t)} x2={x(t)} y1={T} y2={B} stroke={GRID} strokeWidth={1} />
      ))}
      {yt.map((t) => (
        <line key={'gy' + t} x1={L} x2={R} y1={y(t)} y2={y(t)} stroke={GRID} strokeWidth={1} />
      ))}
      <g clipPath={`url(#${clipId})`} fill="none">
        <path d={lin(pacPts) || ''} stroke={PAC_COLOR} strokeWidth={1.4} strokeLinejoin="round" />
        <path d={stepLine(def.oracle) || ''} stroke="#000" strokeWidth={1.1} />
        <path d={method(def.simple) || ''} stroke={BLUE} strokeWidth={0.9} />
        <path d={method(def.simpleZ) || ''} stroke={BLUE} strokeWidth={0.9} strokeDasharray={DASH} />
        <path d={method(def.weighted) || ''} stroke={RED} strokeWidth={0.9} />
        <path d={method(def.weightedZ) || ''} stroke={RED} strokeWidth={0.9} strokeDasharray={DASH} />
      </g>
      <rect x={L} y={T} width={R - L} height={B - T} fill="none" stroke="#000" strokeWidth={0.8} />
      {yt.map((t) => (
        <g key={'yt' + t}>
          <line x1={L - 3.5} x2={L} y1={y(t)} y2={y(t)} stroke="#000" strokeWidth={0.8} />
          <text x={L - 6} y={y(t)} dy="0.35em" textAnchor="end" fontSize={11} fontFamily={FONT} fill="#000">
            {t.toFixed(def.yDec)}
          </text>
        </g>
      ))}
      {def.xTicks.map((t, i) => (
        <g key={'xt' + t}>
          <line x1={x(t)} x2={x(t)} y1={B} y2={B + 3.5} stroke="#000" strokeWidth={0.8} />
          <text x={x(t)} y={B + 16} textAnchor="middle" fontSize={11} fontFamily={FONT} fill="#000">
            {def.xLabels ? def.xLabels[i] : String(t)}
          </text>
        </g>
      ))}
      {def.offset && (
        <text x={R} y={B + 30} textAnchor="end" fontSize={11} fontFamily={FONT} fill="#000">
          {def.offset}
        </text>
      )}
      <text x={(L + R) / 2} y={T - 6} textAnchor="middle" fontSize={13.5} fontFamily={FONT} fill="#000">
        {def.title}
      </text>
    </g>
  );
}

function Legend() {
  const colX = [42.5, 471, 917.5];
  const rowY = [902.5, 923];
  const styles = [
    { c: BLUE, dash: undefined as string | undefined },
    { c: BLUE, dash: '4.5,2.5' },
    { c: RED, dash: undefined },
    { c: RED, dash: '4.5,2.5' },
    { c: '#a3a3a3', dash: undefined },
    { c: '#333333', dash: undefined },
  ];
  return (
    <g>
      <rect x={37.5} y={891.5} width={972} height={56} rx={3} fill="#fff" stroke="#cccccc" strokeWidth={1} />
      {legendLabels.map((lab, i) => {
        const cx = colX[Math.floor(i / 2)];
        const cy = rowY[i % 2];
        const st = styles[i];
        return (
          <g key={lab}>
            <line x1={cx} x2={cx + 29.5} y1={cy} y2={cy} stroke={st.c} strokeWidth={1.6} strokeDasharray={st.dash} />
            <text x={cx + 40} y={cy} dy="0.35em" fontSize={13.8} fontFamily={FONT} fill="#000">
              {lab}
            </text>
          </g>
        );
      })}
    </g>
  );
}

export default function App() {
  return (
    <svg
      width={1038}
      height={936}
      viewBox="0 0 1038 936"
      style={{ position: 'absolute', left: 0, top: 0, background: '#fff' }}
    >
      <rect x={0} y={0} width={1038} height={936} fill="#fff" />
      {PANELS.map((p, i) => (
        <Panel key={p.title} def={p} idx={i} />
      ))}
      <Legend />
    </svg>
  );
}
